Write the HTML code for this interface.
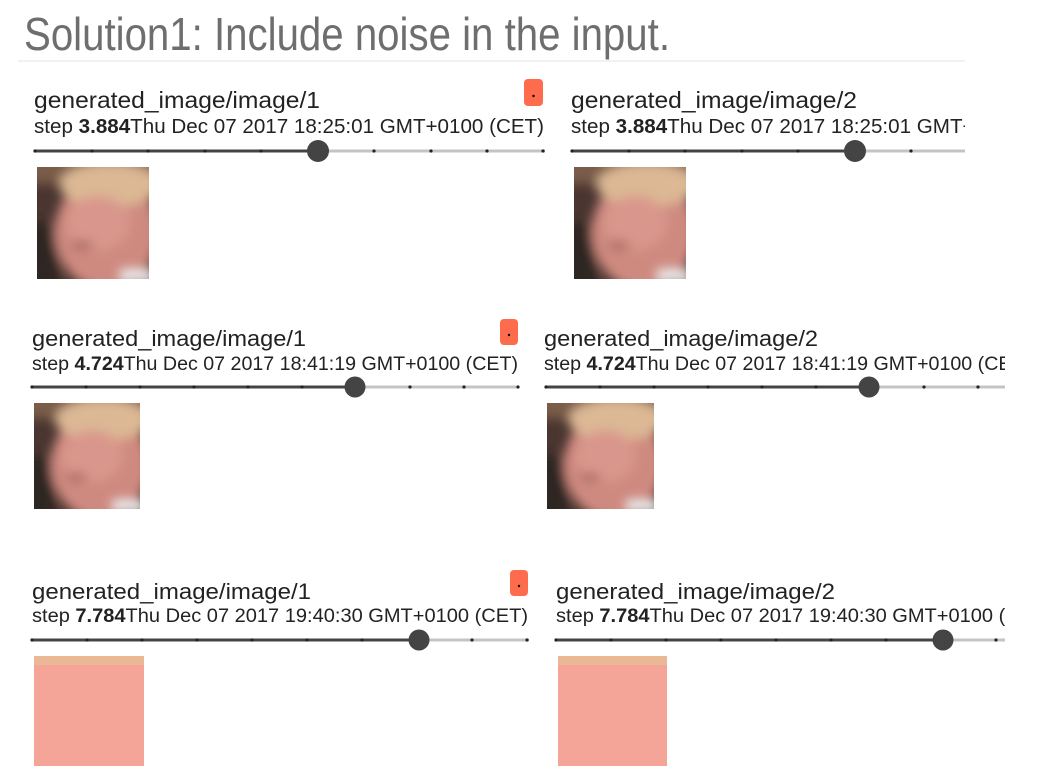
<!DOCTYPE html>
<html><head><meta charset="utf-8"><style>
html,body{margin:0;padding:0;background:#fff;width:1050px;height:776px;overflow:hidden}
svg{display:block}
text{font-family:"Liberation Sans",sans-serif;fill:#222}
</style></head><body>
<svg width="1050" height="776" viewBox="0 0 1050 776" xmlns="http://www.w3.org/2000/svg">
<defs>
<filter id="bl" x="-10%" y="-10%" width="120%" height="120%"><feGaussianBlur stdDeviation="5"/></filter>
<clipPath id="sq"><rect x="0" y="0" width="100" height="100"/></clipPath>
<g id="face">
 <g clip-path="url(#sq)">
 <rect width="100" height="100" fill="#4a3530"/>
 <g filter="url(#bl)">
  <rect x="-10" y="-10" width="120" height="25" fill="#7a5c48"/>
  <rect x="-10" y="50" width="30" height="60" fill="#2e2624"/>
  <ellipse cx="62" cy="58" rx="46" ry="52" fill="#cf8a80"/>
  <ellipse cx="65" cy="16" rx="45" ry="20" fill="#dcb894"/>
  <ellipse cx="55" cy="50" rx="28" ry="24" fill="#d9968c"/>
  <ellipse cx="40" cy="70" rx="10" ry="4" fill="#a86a62"/>
  <rect x="75" y="92" width="30" height="12" fill="#eee"/>
 </g>
 </g>
</g>
<clipPath id="c1"><rect x="560" y="60" width="405" height="110"/></clipPath>
<clipPath id="c2"><rect x="530" y="300" width="475" height="110"/></clipPath>
<clipPath id="c3"><rect x="540" y="560" width="465" height="110"/></clipPath>
</defs>

<text x="24" y="50" font-size="46" style="fill:#6e6e6e" textLength="646" lengthAdjust="spacingAndGlyphs">Solution1: Include noise in the input.</text>
<rect x="18" y="60" width="947" height="2" fill="#f2f2f2"/>

<!-- Row 1 -->
<text x="34" y="108" font-size="23" textLength="286" lengthAdjust="spacingAndGlyphs">generated_image/image/1</text>
<text x="34" y="133" font-size="20" textLength="510" lengthAdjust="spacingAndGlyphs">step <tspan font-weight="bold">3.884</tspan>Thu Dec 07 2017 18:25:01 GMT+0100 (CET)</text>
<rect x="524" y="79" width="19" height="27" rx="4" fill="#fe6b4d"/><circle cx="533.5" cy="96" r="1.2" fill="#000"/>
<g id="s1">
<line x1="34" y1="151" x2="318" y2="151" stroke="#444" stroke-width="3"/>
<line x1="318" y1="151" x2="545" y2="151" stroke="#c4c4c4" stroke-width="3"/>
<g fill="#222"><circle cx="35" cy="151" r="1.6"/><circle cx="92" cy="151" r="1.6"/><circle cx="148" cy="151" r="1.6"/><circle cx="205" cy="151" r="1.6"/><circle cx="261" cy="151" r="1.6"/><circle cx="374" cy="151" r="1.6"/><circle cx="431" cy="151" r="1.6"/><circle cx="487" cy="151" r="1.6"/><circle cx="543" cy="151" r="1.6"/></g>
<circle cx="318" cy="151" r="11" fill="#444"/>
</g>
<use href="#face" transform="translate(37,167) scale(1.12,1.12)"/>

<g clip-path="url(#c1)">
<text x="571" y="108" font-size="23" textLength="286" lengthAdjust="spacingAndGlyphs">generated_image/image/2</text>
<text x="571" y="133" font-size="20" textLength="510" lengthAdjust="spacingAndGlyphs">step <tspan font-weight="bold">3.884</tspan>Thu Dec 07 2017 18:25:01 GMT+0100 (CET)</text>
<use href="#s1" transform="translate(537,0)"/>
</g>
<use href="#face" transform="translate(574,167) scale(1.12,1.12)"/>

<!-- Row 2 -->
<text x="32" y="346" font-size="22" textLength="274" lengthAdjust="spacingAndGlyphs">generated_image/image/1</text>
<text x="32" y="370" font-size="19" textLength="486" lengthAdjust="spacingAndGlyphs">step <tspan font-weight="bold">4.724</tspan>Thu Dec 07 2017 18:41:19 GMT+0100 (CET)</text>
<rect x="500" y="319" width="18" height="26" rx="4" fill="#fe6b4d"/><circle cx="509" cy="335" r="1.2" fill="#000"/>
<g id="s2">
<line x1="31" y1="387" x2="355" y2="387" stroke="#444" stroke-width="3"/>
<line x1="355" y1="387" x2="519" y2="387" stroke="#c4c4c4" stroke-width="3"/>
<g fill="#222"><circle cx="32" cy="387" r="1.6"/><circle cx="86" cy="387" r="1.6"/><circle cx="140" cy="387" r="1.6"/><circle cx="194" cy="387" r="1.6"/><circle cx="248" cy="387" r="1.6"/><circle cx="302" cy="387" r="1.6"/><circle cx="410" cy="387" r="1.6"/><circle cx="464" cy="387" r="1.6"/><circle cx="518" cy="387" r="1.6"/></g>
<circle cx="355" cy="387" r="10.5" fill="#444"/>
</g>
<use href="#face" transform="translate(34,403) scale(1.06,1.06)"/>

<g clip-path="url(#c2)">
<text x="544" y="346" font-size="22" textLength="274" lengthAdjust="spacingAndGlyphs">generated_image/image/2</text>
<text x="544" y="370" font-size="19" textLength="486" lengthAdjust="spacingAndGlyphs">step <tspan font-weight="bold">4.724</tspan>Thu Dec 07 2017 18:41:19 GMT+0100 (CET)</text>
<use href="#s2" transform="translate(514,0)"/>
</g>
<use href="#face" transform="translate(547,403) scale(1.07,1.06)"/>

<!-- Row 3 -->
<text x="32" y="599" font-size="22.5" textLength="279" lengthAdjust="spacingAndGlyphs">generated_image/image/1</text>
<text x="32" y="622" font-size="19" textLength="496" lengthAdjust="spacingAndGlyphs">step <tspan font-weight="bold">7.784</tspan>Thu Dec 07 2017 19:40:30 GMT+0100 (CET)</text>
<rect x="510" y="570" width="18" height="26" rx="4" fill="#fe6b4d"/><circle cx="519" cy="586" r="1.2" fill="#000"/>
<g id="s3">
<line x1="31" y1="640" x2="419" y2="640" stroke="#444" stroke-width="3"/>
<line x1="419" y1="640" x2="529" y2="640" stroke="#c4c4c4" stroke-width="3"/>
<g fill="#222"><circle cx="32" cy="640" r="1.6"/><circle cx="87" cy="640" r="1.6"/><circle cx="142" cy="640" r="1.6"/><circle cx="197" cy="640" r="1.6"/><circle cx="252" cy="640" r="1.6"/><circle cx="307" cy="640" r="1.6"/><circle cx="362" cy="640" r="1.6"/><circle cx="472" cy="640" r="1.6"/><circle cx="527" cy="640" r="1.6"/></g>
<circle cx="419" cy="640" r="10.5" fill="#444"/>
</g>
<rect x="34" y="656" width="110" height="110" fill="#f4a597"/>
<rect x="34" y="656" width="110" height="9" fill="#ebb896"/>

<g clip-path="url(#c3)">
<text x="556" y="599" font-size="22.5" textLength="279" lengthAdjust="spacingAndGlyphs">generated_image/image/2</text>
<text x="556" y="622" font-size="19" textLength="496" lengthAdjust="spacingAndGlyphs">step <tspan font-weight="bold">7.784</tspan>Thu Dec 07 2017 19:40:30 GMT+0100 (CET)</text>
<use href="#s3" transform="translate(524,0)"/>
</g>
<rect x="558" y="656" width="109" height="110" fill="#f4a597"/>
<rect x="558" y="656" width="109" height="9" fill="#ebb896"/>
</svg>
</body></html>
